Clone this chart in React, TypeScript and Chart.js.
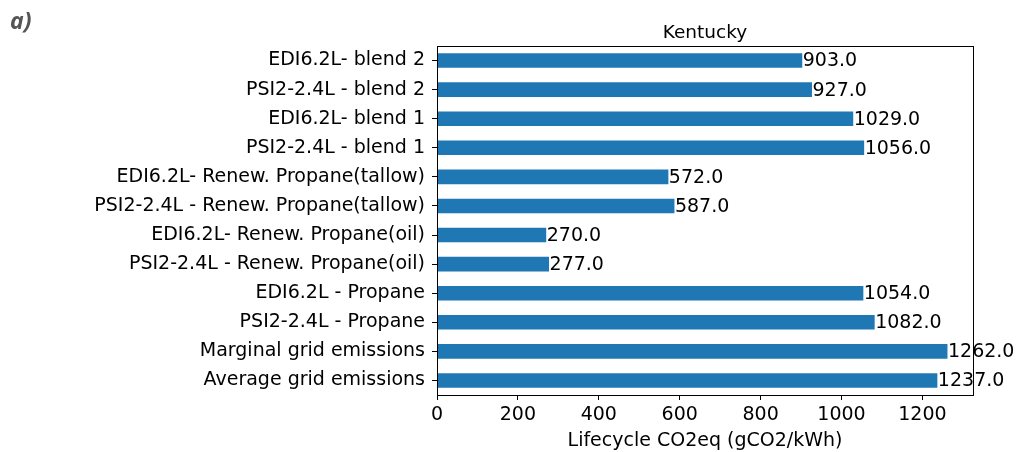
import React, { useEffect, useRef } from "react";
import { Chart, registerables } from "chart.js";

Chart.register(...registerables);

const categories = [
  "EDI6.2L- blend 2",
  "PSI2-2.4L - blend 2",
  "EDI6.2L- blend 1",
  "PSI2-2.4L - blend 1",
  "EDI6.2L- Renew. Propane(tallow)",
  "PSI2-2.4L - Renew. Propane(tallow)",
  "EDI6.2L- Renew. Propane(oil)",
  "PSI2-2.4L - Renew. Propane(oil)",
  "EDI6.2L - Propane",
  "PSI2-2.4L - Propane",
  "Marginal grid emissions",
  "Average grid emissions",
];
const values = [903, 927, 1029, 1056, 572, 587, 270, 277, 1054, 1082, 1262, 1237];
const xTicks = [0, 200, 400, 600, 800, 1000, 1200];
const xMax = 1325.1;
const titleText = "Kentucky";
const xTitle = "Lifecycle CO2eq (gCO2/kWh)";
const panelLabel = "a)";

const FONT = "'DejaVu Sans', sans-serif";
const FS = 19;

export default function App() {
  const ref = useRef<HTMLCanvasElement | null>(null);
  useEffect(() => {
    if (!ref.current) return;
    const deco = {
      id: "deco",
      afterDatasetsDraw(chart: any) {
        const ctx = chart.ctx;
        const { left, right, top, bottom } = chart.chartArea;
        ctx.save();
        const meta = chart.getDatasetMeta(0);
        ctx.fillStyle = "#000";
        ctx.font = `${FS}px ${FONT}`;
        ctx.textBaseline = "middle";
        ctx.textAlign = "left";
        meta.data.forEach((bar: any, i: number) => {
          ctx.fillText(values[i].toFixed(1), bar.x + 0.5, bar.y + 1);
        });
        ctx.strokeStyle = "#000";
        ctx.lineWidth = 1;
        ctx.strokeRect(Math.round(left) + 0.5, Math.round(top) + 0.5, Math.round(right - left), Math.round(bottom - top));
        ctx.textAlign = "center";
        ctx.textBaseline = "alphabetic";
        ctx.font = `${FS - 0.5}px ${FONT}`;
        ctx.fillText(titleText, (left + right) / 2, top - 8);
        ctx.textAlign = "left";
        ctx.fillStyle = "#555";
        ctx.font = `italic bold 23px 'Open Sans', sans-serif`;
        ctx.fillText(panelLabel, 10, 29);
        ctx.restore();
      },
    };
    const chart = new Chart(ref.current, {
      type: "bar",
      data: {
        labels: categories,
        datasets: [
          {
            data: values,
            backgroundColor: "#1f77b4",
            borderWidth: 0,
            barPercentage: 0.5,
            categoryPercentage: 1,
          },
        ],
      },
      options: {
        indexAxis: "y",
        animation: false,
        responsive: false,
        layout: { padding: { top: 46, right: 56, left: 0, bottom: 0 } },
        plugins: { legend: { display: false }, tooltip: { enabled: false }, title: { display: false } },
        scales: {
          x: {
            min: 0,
            max: xMax,
            afterBuildTicks(scale: any) {
              scale.ticks = xTicks.map((v) => ({ value: v }));
            },
            afterFit(scale: any) {
              scale.height = 57;
            },
            border: { display: false },
            grid: { display: true, drawOnChartArea: false, drawTicks: true, tickLength: 5, color: "#000", lineWidth: 1 },
            ticks: {
              color: "#000",
              font: { family: FONT, size: FS },
              padding: 4,
              maxRotation: 0,
              callback: (v: any) => String(v),
            },
            title: { display: true, text: xTitle, color: "#000", font: { family: FONT, size: FS }, padding: { top: 0, bottom: 0 } },
          },
          y: {
            afterFit(scale: any) {
              scale.width = 437;
            },
            border: { display: false },
            grid: { display: true, offset: false, drawOnChartArea: false, drawTicks: true, tickLength: 5, color: "#000", lineWidth: 1 },
            ticks: { color: "#000", font: { family: FONT, size: FS }, padding: 7, autoSkip: false },
          },
        },
      },
      plugins: [deco],
    });
    return () => chart.destroy();
  }, []);
  return (
    <div style={{ position: "absolute", left: 0, top: 0, width: 1029, height: 452, background: "#fff" }}>
      <canvas ref={ref} width={1029} height={452} />
    </div>
  );
}
